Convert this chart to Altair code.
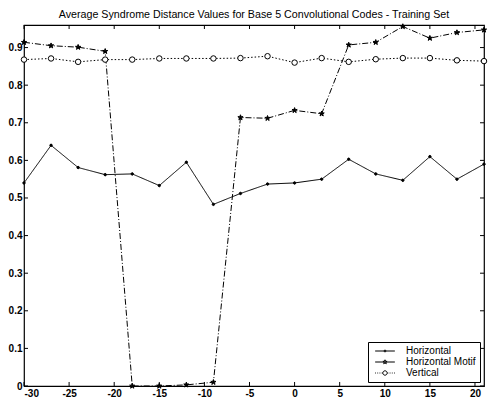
import altair as alt
import pandas as pd

x_vals = [-30, -27, -24, -21, -18, -15, -12, -9, -6, -3, 0, 3, 6, 9, 12, 15, 18, 21]
horizontal = [0.540, 0.640, 0.581, 0.562, 0.564, 0.533, 0.595, 0.483, 0.512, 0.537,
              0.540, 0.550, 0.603, 0.564, 0.547, 0.610, 0.550, 0.590]
horizontal_motif = [0.914, 0.905, 0.901, 0.890, 0.0, 0.0, 0.003, 0.010, 0.714, 0.712,
                    0.733, 0.724, 0.907, 0.914, 0.956, 0.925, 0.940, 0.947]
vertical = [0.868, 0.871, 0.862, 0.868, 0.868, 0.871, 0.871, 0.871, 0.872, 0.877,
            0.860, 0.872, 0.862, 0.869, 0.872, 0.872, 0.866, 0.864]
series_names = ["Horizontal", "Horizontal Motif", "Vertical"]
x_ticks = [-30, -25, -20, -15, -10, -5, 0, 5, 10, 15, 20]
y_ticks = [0, 0.1, 0.2, 0.3, 0.4, 0.5, 0.6, 0.7, 0.8, 0.9]
x_domain = [-30, 21]
y_domain = [0, 0.96]
title_text = "Average Syndrome Distance Values for Base 5 Convolutional Codes - Training Set"

rows = []
for name, vals in zip(series_names, [horizontal, horizontal_motif, vertical]):
    for xv, yv in zip(x_vals, vals):
        rows.append({"x": xv, "y": yv, "series": name})
df = pd.DataFrame(rows)

# inward tick marks (in data units, as short rules)
xt_len = (x_domain[1] - x_domain[0]) * 4 / 462
yt_len = (y_domain[1] - y_domain[0]) * 4 / 360
yt_df = pd.DataFrame({"y": y_ticks})
xt_df = pd.DataFrame({"x": x_ticks})

star = "M0,-1L0.24,-0.31L0.95,-0.31L0.38,0.12L0.59,0.81L0,0.4L-0.59,0.81L-0.38,0.12L-0.95,-0.31L-0.24,-0.31Z"
small_dot = "M-0.45,0A0.45,0.45 0 1,0 0.45,0A0.45,0.45 0 1,0 -0.45,0Z"
leg_h = "M-3.6,0L3.6,0M-0.35,0A0.35,0.35 0 1,0 0.35,0A0.35,0.35 0 1,0 -0.35,0Z"
leg_m = "M-3.6,0L3.6,0M0,-0.8L0.2,-0.25L0.76,-0.25L0.3,0.1L0.47,0.65L0,0.32L-0.47,0.65L-0.3,0.1L-0.76,-0.25L-0.2,-0.25Z"
leg_v = ("M-3.6,0L-3.3,0M-2.8,0L-2.5,0M-2.0,0L-1.7,0M-1.2,0L-0.9,0"
         "M0.9,0L1.2,0M1.7,0L2.0,0M2.5,0L2.8,0M3.3,0L3.6,0"
         "M-0.8,0A0.8,0.8 0 1,0 0.8,0A0.8,0.8 0 1,0 -0.8,0Z")

lab_font = "Liberation Sans"
x_scale = alt.Scale(domain=x_domain, nice=False, zero=False)
y_scale = alt.Scale(domain=y_domain, nice=False)
x_enc = alt.X("x:Q", scale=x_scale,
              axis=alt.Axis(values=x_ticks, title=None, grid=False, ticks=False,
                            labelExpr="'' + datum.value", labelFontSize=10,
                            labelFontWeight="bold", labelColor="black", labelPadding=2,
                            domain=False, labelFont=lab_font))
y_enc = alt.Y("y:Q", scale=y_scale,
              axis=alt.Axis(values=y_ticks, title=None, grid=False, ticks=False,
                            labelExpr="datum.value == 0 ? '0' : format(datum.value, '.1f')",
                            labelFontSize=10, labelFontWeight="bold", labelColor="black",
                            labelPadding=2, domain=False, labelFont=lab_font))

legend = alt.Legend(title=None, orient="bottom-right", offset=4, fillColor="white",
                    strokeColor="black", padding=4, labelFontSize=10,
                    labelFont=lab_font, labelColor="black", rowPadding=1,
                    symbolStrokeColor="black", symbolStrokeWidth=1, symbolSize=30,
                    symbolOffset=8, labelOffset=16, symbolFillColor="black")

lines = alt.Chart(df).mark_line(color="black", strokeWidth=1).encode(
    x=x_enc, y=y_enc,
    strokeDash=alt.StrokeDash("series:N", scale=alt.Scale(domain=series_names,
                              range=[[1, 0], [6, 2, 1, 2], [1.5, 2]]), legend=None),
)
points = alt.Chart(df).mark_point(stroke="black", strokeWidth=1, opacity=1, size=30).encode(
    x=x_enc, y=y_enc,
    shape=alt.Shape("series:N", scale=alt.Scale(domain=series_names,
                    range=[small_dot, star, "circle"]), legend=None),
    fill=alt.Fill("series:N", scale=alt.Scale(domain=series_names,
                  range=["black", "black", "white"]), legend=None),
)
legend_layer = alt.Chart(df).transform_filter("false").mark_point(
    filled=False, stroke="black", strokeWidth=1, opacity=1).encode(
    x=x_enc, y=y_enc,
    shape=alt.Shape("series:N", scale=alt.Scale(domain=series_names,
                    range=[leg_h, leg_m, leg_v]), legend=legend),
)

tick_left = alt.Chart(yt_df).mark_rule(color="black", strokeWidth=1).encode(
    y=alt.Y("y:Q", scale=y_scale), x=alt.value(0), x2=alt.value(4))
tick_right = alt.Chart(yt_df).transform_calculate(
    xa=str(x_domain[1]), xb=str(x_domain[1] - xt_len)).mark_rule(
    color="black", strokeWidth=1).encode(
    y=alt.Y("y:Q", scale=y_scale), x=alt.X("xa:Q", scale=x_scale), x2="xb:Q")
tick_bottom = alt.Chart(xt_df).transform_calculate(
    ya=str(y_domain[0]), yb=str(y_domain[0] + yt_len)).mark_rule(
    color="black", strokeWidth=1).encode(
    x=alt.X("x:Q", scale=x_scale), y=alt.Y("ya:Q", scale=y_scale), y2="yb:Q")
tick_top = alt.Chart(xt_df).transform_calculate(
    ya=str(y_domain[1]), yb=str(y_domain[1] - yt_len)).mark_rule(
    color="black", strokeWidth=1).encode(
    x=alt.X("x:Q", scale=x_scale), y=alt.Y("ya:Q", scale=y_scale), y2="yb:Q")

chart = alt.layer(tick_left, tick_right, tick_bottom, tick_top, lines, points,
                  legend_layer).resolve_scale(shape="independent").properties(
    width=481, height=390,
    autosize=alt.AutoSizeParams(type="fit", contains="padding"),
    padding={"left": 0, "top": 1, "right": 0, "bottom": 0},
    title=alt.Title(title_text, fontSize=10.7, fontWeight="normal", font=lab_font,
                    color="black", offset=1),
).configure_view(stroke="black", strokeWidth=1.2)

chart.save("out.html", embed_options={"renderer": "svg", "actions": False})
